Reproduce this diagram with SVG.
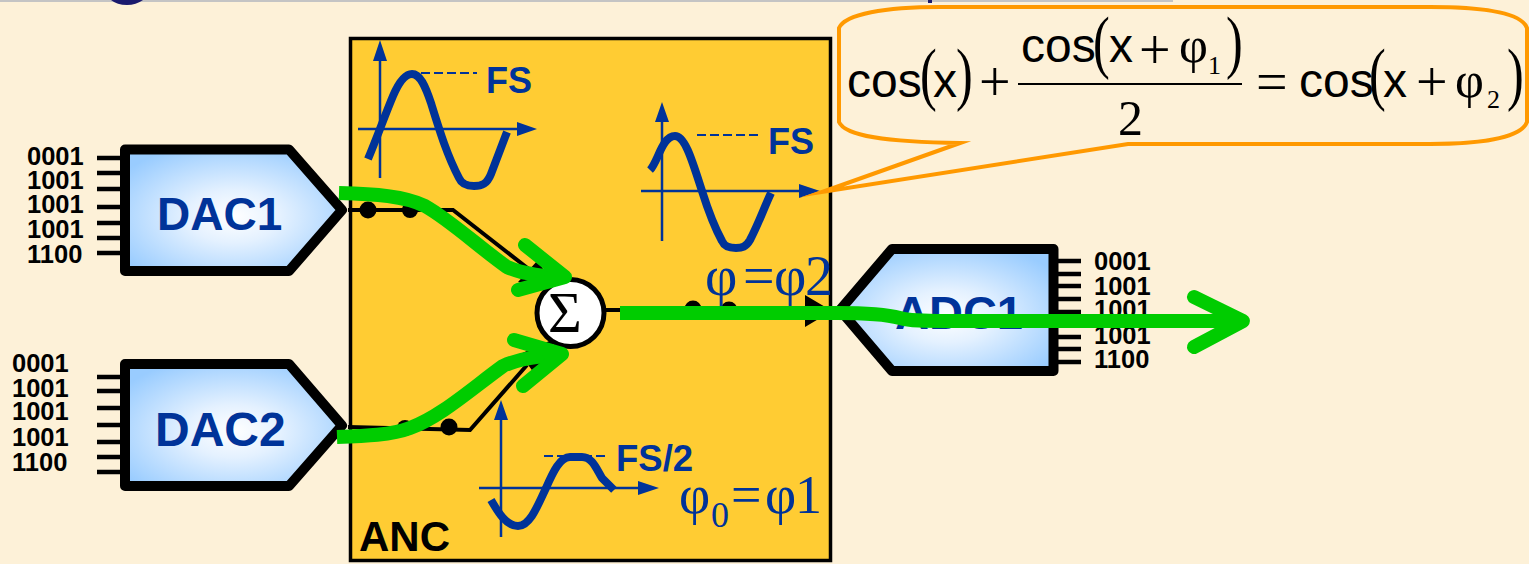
<svg xmlns="http://www.w3.org/2000/svg" width="1529" height="564" viewBox="0 0 1529 564">
<style>
.bits{font:bold 25.500px "Liberation Sans",Arial,sans-serif;fill:#000}
.nm{font:bold 47px "Liberation Sans",Arial,sans-serif;fill:#003399}
.fs{font:bold 36px "Liberation Sans",Arial,sans-serif;fill:#003399}
.conv{fill:url(#g);stroke:#000;stroke-width:10;stroke-linejoin:round}
.pin{stroke:#000;stroke-width:4.5;fill:none}
.ax{stroke:#003399;stroke-width:2.5;fill:none}
.ah{fill:#003399}
.wave{stroke:#003399;stroke-width:8;fill:none}
.dash{stroke:#003399;stroke-width:2;stroke-dasharray:9 4;fill:none}
.phi{font-family:"Liberation Serif","Times New Roman",serif;fill:#003399}
.wire{stroke:#000;stroke-width:4;fill:none}
.green{stroke:#00cc00;stroke-width:14;fill:none;stroke-linecap:round;stroke-linejoin:round}
.greenb{stroke:#00cc00;stroke-width:14;fill:none;stroke-linecap:butt;stroke-linejoin:round}
.s{font-family:"Liberation Sans",Arial,sans-serif;font-size:48px;fill:#000}
.t{font-family:"Liberation Serif","Times New Roman",serif;font-size:50px;fill:#000}
.o{font-family:"Liberation Serif","Times New Roman",serif;font-size:56px;fill:#000}
.p{font-family:"Liberation Serif","Times New Roman",serif;font-size:70px;fill:#000}
</style>
<defs>
<radialGradient id="g" cx="0.5" cy="0.55" r="0.62">
<stop offset="0" stop-color="#ffffff"/>
<stop offset="0.35" stop-color="#e4f1ff"/>
<stop offset="1" stop-color="#99ccff"/>
</radialGradient>
</defs>
<rect width="1529" height="564" fill="#fdf1d8"/>
<g id="top-edge">
<rect x="0" y="0" width="1173" height="2" fill="#c4c4c4"/>
<path d="M111 0H143Q136 5 127 5Q117 5 111 0Z" fill="#1a1a6e"/>
<rect x="928" y="0" width="4" height="3" fill="#1a1a6e"/>
</g>
<g id="anc">
<rect x="350.500" y="38.500" width="480" height="522" fill="#ffcc33" stroke="#000" stroke-width="3.500"/>
<text x="359" y="551" style="font:bold 42px 'Liberation Sans',Arial,sans-serif" fill="#000">ANC</text>
</g>
<g id="chart-fs-1">
<path class="ax" d="M380 55V178M358 129H520"/>
<path class="ah" d="M380 40L387 61H373ZM537 129L517 122V136Z"/>
<path class="wave" d="M368 159C378 135 385 115 393 96C399 82 405 74 412 74C420 74 425 85 431 103C440 132 447 155 459 178C462 185 470 186 474 186C482 186 487 184 491 174L507 132"/>
<path class="dash" d="M421 73H477"/>
<text class="fs" x="486" y="93">FS</text>
</g>
<g id="chart-fs-2">
<path class="ax" d="M662 118V241M641 191H802"/>
<path class="ah" d="M662 102L669 122H655ZM820 191L799 184V198Z"/>
<path class="wave" d="M650 170C658 162 662 136 675 136C685 136 692 160 702 191C708 210 716 230 722 241C725 248 732 248 736 248C742 248 746 247 750 240C758 225 764 208 771 193"/>
<path class="dash" d="M697 135H759"/>
<text class="fs" x="768" y="154">FS</text>
</g>
<g id="chart-fs-half">
<path class="ax" d="M501 415V537M479 488H640"/>
<path class="ah" d="M501 400L508 420H494ZM659 488L638 481V495Z"/>
<path class="wave" d="M491 500C498 512 506 526 518 526C530 526 538 505 546 488C553 472 560 457 570 457H582C592 457 596 468 602 478L614 490"/>
<path class="dash" d="M544 456H608"/>
<text class="fs" x="616" y="471" style="font-size:36.500px">FS/2</text>
</g>
<g id="connectors">
<path class="wire" d="M348 210H453L530 270"/>
<path class="wire" d="M348 427L470 430L527 365"/>
<path class="wire" d="M600 310H810"/>
<path d="M538 260L518 282L556 292Z" fill="#000"/>
<path d="M520 354L537 377L556 338Z" fill="#000"/>
<path d="M805 295L832 311L805 327Z" fill="#000"/>
<circle cx="368" cy="210" r="8.500"/>
<circle cx="410" cy="210" r="8"/>
<circle cx="405" cy="428" r="8"/>
<circle cx="449" cy="427" r="8.500"/>
<circle cx="693" cy="309" r="8.500"/>
<circle cx="729" cy="310" r="8.500"/>
</g>
<g id="sum">
<circle cx="570.500" cy="313" r="33.500" fill="#fff" stroke="#000" stroke-width="5"/>
<text x="565" y="332" text-anchor="middle" style="font:58px 'Liberation Serif','Times New Roman',serif" fill="#000">Σ</text>
</g>
<g id="dac1">
<path class="pin" d="M97 158H121M97 173H121M97 189H121M97 207H121M97 223H121M97 238H121M97 253H121"/>
<path class="conv" d="M125 149.500H289L342 210L289 271H125Z"/>
<text class="nm" x="157" y="230" style="font-size:46px">DAC1</text>
<text class="bits"><tspan x="27" y="165">0001</tspan><tspan x="27" y="189">1001</tspan><tspan x="27" y="213">1001</tspan><tspan x="27" y="238">1001</tspan><tspan x="27" y="263">1100</tspan></text>
</g>
<g id="dac2">
<path class="pin" d="M97 377H121M97 391H121M97 408H121M97 425H121M97 442H121M97 457H121M97 472H121"/>
<path class="conv" d="M125 364H289L342 425.500L289 486H125Z"/>
<text class="nm" x="155" y="445.500" style="font-size:48px">DAC2</text>
<text class="bits"><tspan x="12" y="372">0001</tspan><tspan x="12" y="397">1001</tspan><tspan x="12" y="420">1001</tspan><tspan x="12" y="446">1001</tspan><tspan x="12" y="471">1100</tspan></text>
</g>
<g id="adc1">
<path class="pin" d="M1058 261H1081M1058 274H1081M1058 286H1081M1058 299H1081M1058 312H1081M1058 324H1081M1058 337H1081M1058 349H1081M1058 362H1081"/>
<path class="conv" d="M1053.500 249H892L840 310L892 371H1053.500Z"/>
<text class="nm" x="895" y="329">ADC1</text>
<text class="bits"><tspan x="1094" y="270">0001</tspan><tspan x="1094" y="295">1001</tspan><tspan x="1094" y="318">1001</tspan><tspan x="1094" y="344">1001</tspan><tspan x="1094" y="368">1100</tspan></text>
</g>
<g id="phase-labels">
<text class="phi" font-size="56" y="295"><tspan x="705">φ</tspan><tspan x="743">=</tspan><tspan x="774">φ</tspan><tspan x="805">2</tspan></text>
<text class="phi" font-size="54" y="513"><tspan x="679">φ</tspan><tspan x="711" y="527" font-size="36">0</tspan><tspan x="731" y="513">=</tspan><tspan x="765">φ</tspan><tspan x="795">1</tspan></text>
</g>
<g id="formula">
<path d="M839 28C845 14 885 7 940 7H1430C1490 7 1522 14 1527 28V122C1522 136 1490 144 1430 144H1128L822 192L960 143C885 142 845 136 839 122Z" fill="none" stroke="#ff9900" stroke-width="4" stroke-miterlimit="12"/>
<path d="M1018 84H1242" stroke="#000" stroke-width="2"/>
<text class="s" y="97"><tspan x="847">cos</tspan></text>
<text class="s" y="97"><tspan x="933">x</tspan></text>
<text class="s" y="97"><tspan x="1299">cos</tspan></text>
<text class="s" y="97"><tspan x="1383">x</tspan></text>
<text class="s" y="62"><tspan x="1021">cos</tspan></text>
<text class="s" y="62"><tspan x="1109">x</tspan></text>
<text class="p" transform="translate(920 97) scale(.72 1)">(</text>
<text class="p" transform="translate(956 97) scale(.72 1)">)</text>
<text class="p" transform="translate(1369 97) scale(.72 1)">(</text>
<text class="p" transform="translate(1507 97) scale(.72 1)">)</text>
<text class="p" transform="translate(1093 65) scale(.72 1)">(</text>
<text class="p" transform="translate(1226 65) scale(.72 1)">)</text>
<text class="o" y="101"><tspan x="979">+</tspan></text>
<text class="o" y="101"><tspan x="1256">=</tspan></text>
<text class="o" y="101"><tspan x="1416">+</tspan></text>
<text class="o" y="69"><tspan x="1139">+</tspan></text>
<text class="t" y="97"><tspan x="1455">φ</tspan></text>
<text class="t" y="62"><tspan x="1179">φ</tspan></text>
<text class="t" y="135"><tspan x="1118">2</tspan></text>
<text class="t" y="74" style="font-size:26px"><tspan x="1208">1</tspan></text>
<text class="t" y="108" style="font-size:26px"><tspan x="1487">2</tspan></text>
</g>
<g id="signal-paths">
<path class="greenb" d="M339 193C375 194 405 196 425 206C450 220 480 248 507 267C525 275 545 276 565 277"/>
<path class="green" d="M525 245L565 277L518 290"/>
<path class="greenb" d="M337 437C365 436 392 435 410 428C440 417 470 390 503 366C520 358 540 356 557 355"/>
<path class="green" d="M514 340L562 354L523 386"/>
<path class="greenb" d="M620 313H837C865 313 885 314 900 318C910 321 925 321 945 321H1240"/>
<path class="green" d="M1194 297L1243 321L1194 347"/>
</g>
</svg>
